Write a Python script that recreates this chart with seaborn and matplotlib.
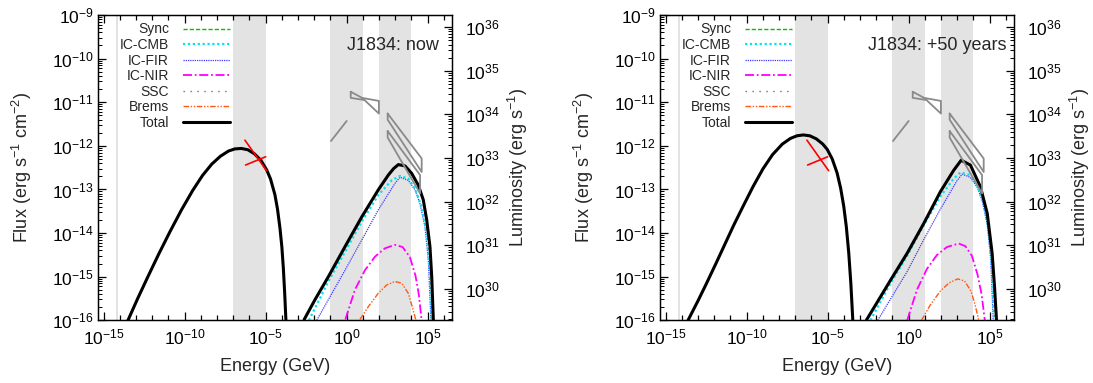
import numpy as np
import pandas as pd
import matplotlib
matplotlib.use("Agg")
import matplotlib.pyplot as plt
from matplotlib.lines import Line2D
from matplotlib.ticker import FixedLocator, LogFormatterMathtext, NullFormatter, LogLocator
import seaborn as sns

# ---------------- data (log10 values) ----------------
# shaded energy bands, log10(E/GeV)
band_lo = [-14.25, -7.0, -1.0, 2.0]
band_hi = [-14.12, -5.0, 1.0, 4.0]

# luminosity / flux conversion, log10(4 pi d^2)
log_4pid2 = 45.28

# --- panel 1: now ---
now_tot_lo_E = [-13.5, -12.9, -12.27, -11.6, -10.91, -10.2, -9.5, -8.9, -8.33, -7.8, -7.3, -6.9, -6.5, -6.1, -5.7, -5.3, -4.94, -4.7, -4.43, -4.27, -4.12, -4.0, -3.91, -3.83, -3.75]
now_tot_lo_F = [-16.0, -15.5, -15.0, -14.48, -13.97, -13.47, -13.02, -12.68, -12.42, -12.24, -12.12, -12.07, -12.06, -12.09, -12.18, -12.33, -12.55, -12.76, -13.12, -13.45, -13.88, -14.32, -14.8, -15.35, -16.0]
now_tot_hi_E = [-2.62, -1.96, -1.13, -0.10, 0.93, 1.95, 2.57, 2.9, 3.19, 3.60, 4.01, 4.42, 4.73, 4.94, 5.14, 5.25, 5.35]
now_tot_hi_F = [-15.98, -15.53, -15.0, -14.31, -13.63, -13.01, -12.67, -12.52, -12.43, -12.46, -12.63, -12.90, -13.24, -13.70, -14.31, -15.0, -16.0]
now_cmb_E = [-2.33, -1.13, -0.10, 0.93, 1.95, 2.78, 3.29, 3.80, 4.22, 4.63, 4.94, 5.14, 5.25]
now_cmb_F = [-16.0, -15.11, -14.43, -13.74, -13.13, -12.79, -12.69, -12.75, -12.98, -13.40, -14.01, -14.92, -16.0]
now_fir_E = [-1.85, -0.10, 0.93, 1.95, 2.98, 3.29, 3.80, 4.22, 4.52, 4.83, 5.04, 5.20]
now_fir_F = [-16.0, -14.85, -14.16, -13.47, -12.86, -12.72, -12.79, -13.01, -13.32, -13.85, -14.62, -16.0]
now_nir_E = [-0.08, 0.51, 1.13, 1.75, 2.36, 2.98, 3.45, 3.90, 4.25, 4.45, 4.62]
now_nir_F = [-15.98, -15.30, -14.85, -14.54, -14.35, -14.27, -14.32, -14.55, -14.98, -15.40, -15.98]
now_brems_E = [0.82, 1.33, 1.95, 2.47, 2.98, 3.40, 3.80, 4.05, 4.26]
now_brems_F = [-15.98, -15.69, -15.38, -15.19, -15.11, -15.15, -15.38, -15.69, -15.98]

# --- panel 2: +50 years ---
fut_tot_lo_E = [-13.62, -13.0, -12.5, -11.9, -11.4, -10.8, -10.2, -9.6, -9.0, -8.4, -7.8, -7.3, -6.9, -6.5, -6.1, -5.7, -5.3, -5.03, -4.72, -4.42, -4.2, -4.01, -3.85, -3.70, -3.57, -3.45]
fut_tot_lo_F = [-16.0, -15.55, -15.17, -14.7, -14.3, -13.82, -13.37, -12.93, -12.53, -12.2, -11.96, -11.83, -11.77, -11.75, -11.77, -11.84, -11.96, -12.08, -12.30, -12.62, -12.97, -13.38, -13.85, -14.45, -15.15, -15.99]
fut_tot_hi_E = [-2.60, -1.12, -0.09, 0.93, 1.96, 2.78, 3.24, 3.81, 4.43, 4.85, 5.15, 5.30, 5.42]
fut_tot_hi_F = [-15.99, -15.08, -14.46, -13.78, -13.05, -12.56, -12.33, -12.44, -12.94, -13.55, -14.46, -15.23, -15.99]
fut_cmb_E = [-2.36, -1.12, -0.09, 0.93, 1.96, 2.78, 3.20, 3.80, 4.25, 4.65, 4.95, 5.15, 5.27]
fut_cmb_F = [-16.0, -15.15, -14.52, -13.82, -13.16, -12.75, -12.61, -12.67, -12.92, -13.35, -13.97, -14.85, -16.0]
fut_fir_E = [-1.91, -0.09, 0.93, 1.96, 2.98, 3.30, 3.80, 4.25, 4.55, 4.85, 5.06, 5.22]
fut_fir_F = [-16.0, -14.88, -14.15, -13.45, -12.80, -12.65, -12.72, -12.96, -13.28, -13.80, -14.58, -16.0]
fut_nir_E = [-0.09, 0.51, 1.13, 1.75, 2.36, 3.09, 3.50, 3.90, 4.25, 4.50, 4.70]
fut_nir_F = [-16.0, -15.30, -14.82, -14.50, -14.32, -14.24, -14.30, -14.52, -14.95, -15.40, -16.0]
fut_brems_E = [0.79, 1.33, 1.95, 2.50, 3.03, 3.45, 3.85, 4.10, 4.33]
fut_brems_F = [-16.0, -15.65, -15.33, -15.14, -15.05, -15.10, -15.33, -15.65, -16.0]

# observational data (log10 E, log10 F)
xray_a_E = [-6.28, -4.94]
xray_a_F = [-11.87, -12.57]
xray_b_E = [-6.24, -5.0]
xray_b_F = [-12.44, -12.25]
fermi_line_E = [-0.97, 0.0]
fermi_line_F = [-11.89, -11.43]
fermi_bt_E = [0.25, 0.95, 1.99, 1.99, 1.10, 0.25, 0.25]
fermi_bt_F = [-10.76, -10.90, -10.97, -11.26, -10.95, -10.90, -10.76]
hess1_E = [2.53, 4.63, 4.63, 2.53, 2.53]
hess1_F = [-11.26, -12.29, -12.60, -11.40, -11.26]
hess2_E = [2.53, 4.53, 4.53, 2.53, 2.53]
hess2_F = [-11.66, -12.67, -13.09, -11.81, -11.66]

panels = [
    dict(title="J1834: now", tx=0.963,
         tot=[(now_tot_lo_E, now_tot_lo_F), (now_tot_hi_E, now_tot_hi_F)],
         cmb=(now_cmb_E, now_cmb_F), fir=(now_fir_E, now_fir_F),
         nir=(now_nir_E, now_nir_F), brems=(now_brems_E, now_brems_F)),
    dict(title="J1834: +50 years", tx=0.979,
         tot=[(fut_tot_lo_E, fut_tot_lo_F), (fut_tot_hi_E, fut_tot_hi_F)],
         cmb=(fut_cmb_E, fut_cmb_F), fir=(fut_fir_E, fut_fir_F),
         nir=(fut_nir_E, fut_nir_F), brems=(fut_brems_E, fut_brems_F)),
]

# ---------------- styling ----------------
sns.set_theme(style="ticks", rc={"xtick.direction": "in", "ytick.direction": "in"})
plt.rcParams["font.family"] = ["Liberation Sans", "DejaVu Sans"]
plt.rcParams["mathtext.fontset"] = "custom"
plt.rcParams["mathtext.rm"] = "Liberation Sans"
plt.rcParams["mathtext.it"] = "Liberation Sans:italic"
plt.rcParams["mathtext.bf"] = "Liberation Sans:bold"
plt.rcParams["mathtext.default"] = "regular"
plt.rcParams["axes.unicode_minus"] = False

C_SYNC = "#00c000"
C_CMB = "#00e5ee"
C_FIR = "#3b3bff"
C_NIR = "#ff00ff"
C_SSC = "#707070"
C_BREM = "#ff5a14"
C_BAND = "#e3e3e3"
C_DATA = "#8a8a8a"

styles = {
    "Sync": dict(color=C_SYNC, lw=1.0, ls=(0, (3, 1.5))),
    "IC-CMB": dict(color=C_CMB, lw=1.6, ls=(0, (1, 1.2))),
    "IC-FIR": dict(color=C_FIR, lw=0.9, ls=(0, (1, 0.8))),
    "IC-NIR": dict(color=C_NIR, lw=1.3, ls=(0, (5, 1.5, 1, 1.5))),
    "SSC": dict(color=C_SSC, lw=1.0, ls=(0, (1, 4))),
    "Brems": dict(color=C_BREM, lw=1.0, ls=(0, (4, 1.2, 1, 1.2, 1, 1.2))),
    "Total": dict(color="black", lw=2.2, ls="-"),
}

TICK_FS = 12.5
LABEL_FS = 13

fig = plt.figure(figsize=(10.93, 3.83), dpi=100)
ax_w = 354.3 / 1093
ax_h = 305.3 / 383
bottom = 1 - 320.3 / 383
lefts = [98 / 1093, 660 / 1093]

def line(ax, E, F, key, zorder=3):
    st = styles[key]
    df = pd.DataFrame({"E": np.power(10.0, E), "F": np.power(10.0, F)})
    sns.lineplot(data=df, x="E", y="F", ax=ax, sort=False, estimator=None,
                 color=st["color"], lw=st["lw"], linestyle=st["ls"], zorder=zorder)

for p, left in zip(panels, lefts):
    ax = fig.add_axes([left, bottom, ax_w, ax_h])
    ax.set_xscale("log")
    ax.set_yscale("log")
    ax.set_xlim(10 ** -15.35, 10 ** 6.52)
    ax.set_ylim(1e-16, 1e-9)

    for lo, hi in zip(band_lo, band_hi):
        ax.axvspan(10 ** lo, 10 ** hi, color=C_BAND, lw=0, zorder=0)

    # model curves
    line(ax, p["tot"][0][0], p["tot"][0][1], "Sync", zorder=2)
    line(ax, *p["brems"], "Brems")
    line(ax, *p["nir"], "IC-NIR")
    line(ax, *p["fir"], "IC-FIR")
    line(ax, *p["cmb"], "IC-CMB")
    for E, F in p["tot"]:
        line(ax, E, F, "Total", zorder=4)

    # data
    for E, F in [(xray_a_E, xray_a_F), (xray_b_E, xray_b_F)]:
        ax.plot(np.power(10.0, E), np.power(10.0, F), color="red", lw=1.2, zorder=5)
    for E, F in [(fermi_line_E, fermi_line_F), (fermi_bt_E, fermi_bt_F),
                 (hess1_E, hess1_F), (hess2_E, hess2_F)]:
        ax.plot(np.power(10.0, E), np.power(10.0, F), color=C_DATA, lw=1.3, zorder=5)

    # axes styling
    for s in ax.spines.values():
        s.set_linewidth(0.9)
        s.set_color("black")
    ax.xaxis.set_major_locator(FixedLocator([1e-15, 1e-10, 1e-5, 1e0, 1e5]))
    ax.xaxis.set_minor_locator(FixedLocator([10.0 ** k for k in range(-15, 7)]))
    ax.xaxis.set_major_formatter(LogFormatterMathtext())
    ax.xaxis.set_minor_formatter(NullFormatter())
    ax.yaxis.set_major_locator(FixedLocator([10.0 ** k for k in range(-16, -8)]))
    ax.yaxis.set_minor_locator(LogLocator(base=10, subs=np.arange(2, 10), numticks=50))
    ax.yaxis.set_major_formatter(LogFormatterMathtext())
    ax.yaxis.set_minor_formatter(NullFormatter())
    ax.tick_params(axis="x", which="both", direction="in", top=True, bottom=True,
                   labelsize=TICK_FS, pad=5, colors="black")
    ax.tick_params(axis="x", which="major", length=6, width=0.9)
    ax.tick_params(axis="x", which="minor", length=3.5, width=0.9)
    ax.tick_params(axis="y", which="both", direction="in", left=True, right=False,
                   labelsize=TICK_FS, pad=3, colors="black")
    ax.tick_params(axis="y", which="major", length=6, width=0.9)
    ax.tick_params(axis="y", which="minor", length=3, width=0.7)
    ax.set_xlabel("Energy (GeV)", fontsize=LABEL_FS, labelpad=8)
    ax.set_ylabel("Flux (erg s$^{-1}$ cm$^{-2}$)", fontsize=LABEL_FS)
    ax.yaxis.set_label_coords(-0.181, 0.5)
    ax.grid(False)

    ax2 = ax.twinx()
    ax2.set_yscale("log")
    ax2.set_ylim(10 ** (-16 + log_4pid2), 10 ** (-9 + log_4pid2))
    ax2.yaxis.set_major_locator(FixedLocator([10.0 ** k for k in range(30, 37)]))
    ax2.yaxis.set_minor_locator(LogLocator(base=10, subs=np.arange(2, 10), numticks=50))
    ax2.yaxis.set_major_formatter(LogFormatterMathtext())
    ax2.yaxis.set_minor_formatter(NullFormatter())
    ax2.tick_params(axis="y", which="both", direction="in", right=True, left=False,
                    labelsize=TICK_FS, pad=9, colors="black")
    ax2.tick_params(axis="y", which="major", length=6, width=0.9)
    ax2.tick_params(axis="y", which="minor", length=3, width=0.7)
    ax2.set_ylabel("Luminosity (erg s$^{-1}$)", fontsize=LABEL_FS)
    ax2.yaxis.set_label_coords(1.152, 0.5)
    for s in ax2.spines.values():
        s.set_linewidth(0.9)
        s.set_color("black")

    ax.text(p["tx"], 0.90, p["title"], transform=ax.transAxes, ha="right",
            va="center", fontsize=13)

    # legend (gnuplot style: text then sample)
    names = ["Sync", "IC-CMB", "IC-FIR", "IC-NIR", "SSC", "Brems", "Total"]
    handles = [Line2D([], [], color=styles[n]["color"], lw=styles[n]["lw"],
                      linestyle=styles[n]["ls"]) for n in names]
    ax.legend(handles, names, loc="upper right", bbox_to_anchor=(0.3726, 0.9755),
              markerfirst=False, frameon=False, fontsize=10, handlelength=3.4,
              handletextpad=1.0, labelspacing=0.11, borderpad=0, borderaxespad=0)

fig.savefig("out.png", dpi=100)
